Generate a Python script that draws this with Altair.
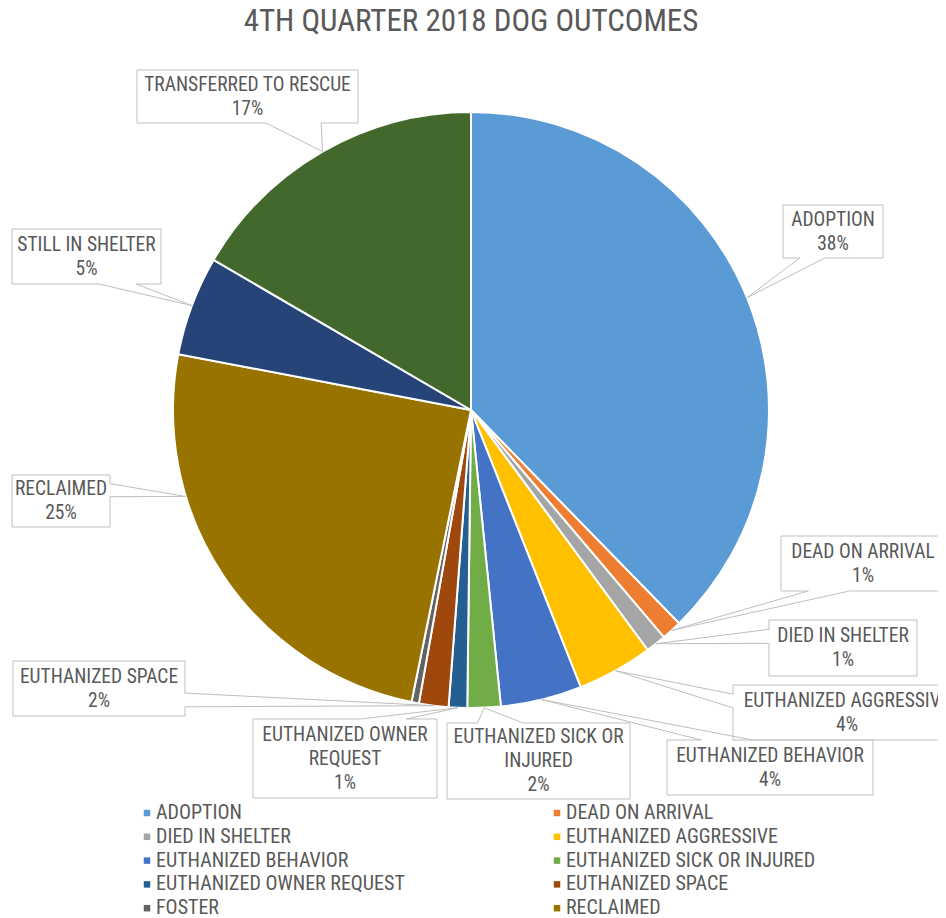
import math
import altair as alt
import pandas as pd

# ---------------- data ----------------
categories = [
    "ADOPTION", "DEAD ON ARRIVAL", "DIED IN SHELTER", "EUTHANIZED AGGRESSIVE",
    "EUTHANIZED BEHAVIOR", "EUTHANIZED SICK OR INJURED", "EUTHANIZED OWNER REQUEST",
    "EUTHANIZED SPACE", "FOSTER", "RECLAIMED", "STILL IN SHELTER", "TRANSFERRED TO RESCUE",
]
shares = [37.7, 1.1, 1.1, 4.1, 4.4, 1.8, 1.0, 1.6, 0.4, 24.8, 5.4, 16.6]
colors = [
    "#5B9BD5", "#ED7D31", "#A5A5A5", "#FFC000", "#4472C4", "#70AD47",
    "#255E91", "#9E480E", "#636363", "#997300", "#264478", "#43682B",
]
title_text = "4TH QUARTER 2018 DOG OUTCOMES"

# ---------------- layout (reference pixel space) ----------------
W, H = 930, 910
OFF = 8
CX, CY, R = 471, 410, 298
FONT = "Liberation Sans Narrow, Arial Narrow, Roboto Condensed, Roboto, sans-serif"
TXT = "#595959"
LINE = "#BFBFBF"
LABEL_SIZE = 19.5
LEGEND_SIZE = 20
TITLE_SIZE = 31
LINE_GAP = 24

# label box: left, top, width, height, tip position within slice (0..1), wrapped name lines
label_layout = {
    "ADOPTION": (783, 205, 100, 53, 0.5, ["ADOPTION"]),
    "DEAD ON ARRIVAL": (781, 536, 164, 55, 0.5, ["DEAD ON ARRIVAL"]),
    "DIED IN SHELTER": (769, 620, 148, 56, 0.5, ["DIED IN SHELTER"]),
    "EUTHANIZED AGGRESSIVE": (733, 685, 228, 55, 0.5, ["EUTHANIZED AGGRESSIVE"]),
    "EUTHANIZED BEHAVIOR": (667, 740, 206, 55, 0.5, ["EUTHANIZED BEHAVIOR"]),
    "EUTHANIZED SICK OR INJURED": (447, 723, 183, 76, 0.5, ["EUTHANIZED SICK OR", "INJURED"]),
    "EUTHANIZED OWNER REQUEST": (253, 719, 184, 79, 0.5, ["EUTHANIZED OWNER", "REQUEST"]),
    "EUTHANIZED SPACE": (13, 661, 172, 55, 0.5, ["EUTHANIZED SPACE"]),
    "RECLAIMED": (12, 475, 98, 52, 0.69, ["RECLAIMED"]),
    "STILL IN SHELTER": (12, 229, 149, 55, 0.5, ["STILL IN SHELTER"]),
    "TRANSFERRED TO RESCUE": (137, 70, 221, 53, 0.5, ["TRANSFERRED TO RESCUE"]),
}

legend_cols_x = [147, 557]
legend_row0, legend_row_gap = 813, 23.8

# ---------------- derived tables ----------------
total = sum(shares)
pie_df = pd.DataFrame({"cat": categories, "value": shares, "idx": list(range(len(categories)))})

cum = 0.0
starts, ends = [], []
for v in shares:
    starts.append(cum / total * 360.0)
    cum += v
    ends.append(cum / total * 360.0)


def callout_points(l, t, w, h, tx, ty):
    cx, cy = l + w / 2, t + h / 2
    dx, dy = tx - cx, ty - cy
    dq = dx * h / w
    dz = abs(dy) - abs(dq)
    r, b = l + w, t + h
    x1 = l + w * (7 if dx > 0 else 2) / 12
    x2 = l + w * (10 if dx > 0 else 5) / 12
    y1 = t + h * (7 if dy > 0 else 2) / 12
    y2 = t + h * (10 if dy > 0 else 5) / 12
    pts = [(l, t)]
    if dz > 0 and dy < 0:
        pts += [(x1, t), (tx, ty), (x2, t)]
    pts.append((r, t))
    if dz <= 0 and dx > 0:
        pts += [(r, y1), (tx, ty), (r, y2)]
    pts.append((r, b))
    if dz > 0 and dy > 0:
        pts += [(x2, b), (tx, ty), (x1, b)]
    pts.append((l, b))
    if dz <= 0 and dx < 0:
        pts += [(l, y2), (tx, ty), (l, y1)]
    pts.append((l, t))
    return pts


poly_rows, text_rows = [], []
for i, cat in enumerate(categories):
    if cat not in label_layout:
        continue
    l, t, w, h, frac, name_lines = label_layout[cat]
    ang = math.radians(starts[i] + frac * (ends[i] - starts[i]))
    tx, ty = CX + R * math.sin(ang), CY - R * math.cos(ang)
    for s, (px, py) in enumerate(callout_points(l, t, w, h, tx, ty)):
        poly_rows.append({"label": cat, "seq": s, "x": px, "y": py})
    lines = name_lines + [f"{shares[i] / total * 100:.0f}%"]
    n = len(lines)
    for k, line in enumerate(lines):
        text_rows.append({"x": l + w / 2, "y": t + h / 2 + (k - (n - 1) / 2) * LINE_GAP, "text": line})

poly_df = pd.DataFrame(poly_rows)
text_df = pd.DataFrame(text_rows)

leg_rows = []
for i, cat in enumerate(categories):
    leg_rows.append({
        "cat": cat,
        "x": legend_cols_x[i % 2],
        "tx": legend_cols_x[i % 2] + 9,
        "y": legend_row0 + (i // 2) * legend_row_gap,
    })
leg_df = pd.DataFrame(leg_rows)
title_df = pd.DataFrame({"x": [CX], "y": [22], "text": [title_text]})

xs = alt.Scale(domain=[OFF, OFF + W], nice=False, zero=False)
ys = alt.Scale(domain=[OFF, OFF + H], nice=False, zero=False, reverse=True)
color_scale = alt.Scale(domain=categories, range=colors)

pie = alt.Chart(pie_df).mark_arc(outerRadius=R, stroke="white", strokeWidth=2).encode(
    theta=alt.Theta("value:Q", stack=True),
    order=alt.Order("idx:Q"),
    color=alt.Color("cat:N", scale=color_scale, legend=None),
    x=alt.value(CX - OFF),
    y=alt.value(CY - OFF),
)

callouts = alt.Chart(poly_df).mark_line(color=LINE, strokeWidth=1).encode(
    x=alt.X("x:Q", scale=xs, axis=None),
    y=alt.Y("y:Q", scale=ys, axis=None),
    detail="label:N",
    order="seq:Q",
)

labels = alt.Chart(text_df).mark_text(
    font=FONT, fontSize=LABEL_SIZE, color=TXT, align="center", baseline="middle"
).encode(
    x=alt.X("x:Q", scale=xs, axis=None),
    y=alt.Y("y:Q", scale=ys, axis=None),
    text="text:N",
)

title = alt.Chart(title_df).mark_text(
    font=FONT, fontSize=TITLE_SIZE, color=TXT, align="center", baseline="middle"
).encode(
    x=alt.X("x:Q", scale=xs, axis=None),
    y=alt.Y("y:Q", scale=ys, axis=None),
    text="text:N",
)

leg_sq = alt.Chart(leg_df).mark_square(size=42, opacity=1).encode(
    x=alt.X("x:Q", scale=xs, axis=None),
    y=alt.Y("y:Q", scale=ys, axis=None),
    color=alt.Color("cat:N", scale=color_scale, legend=None),
)
leg_txt = alt.Chart(leg_df).mark_text(
    font=FONT, fontSize=LEGEND_SIZE, color=TXT, align="left", baseline="middle"
).encode(
    x=alt.X("tx:Q", scale=xs, axis=None),
    y=alt.Y("y:Q", scale=ys, axis=None),
    text="cat:N",
)

chart = alt.layer(pie, callouts, labels, title, leg_sq, leg_txt).properties(
    width=W, height=H, padding=0, autosize=alt.AutoSizeParams(type="none")
).configure_view(stroke=None)

chart.save("out.html", embed_options={"renderer": "svg", "actions": False})
